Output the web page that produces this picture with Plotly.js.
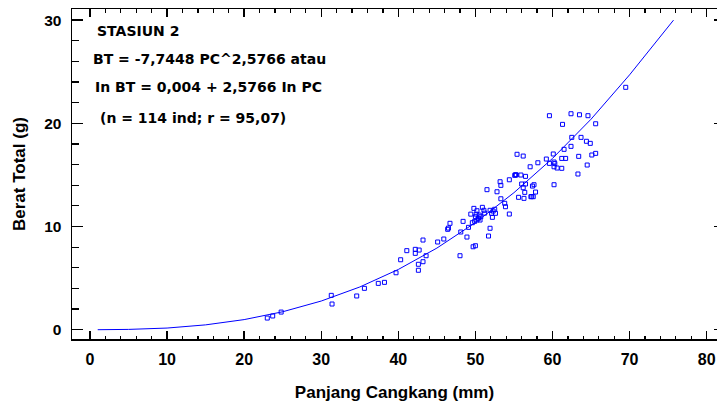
<!DOCTYPE html>
<html>
<head>
<meta charset="utf-8">
<script src="https://cdn.plot.ly/plotly-3.0.1.min.js"></script>
<style>html,body{margin:0;padding:0;background:#fff;}#chart{width:717px;height:407px;}</style>
</head>
<body>
<div id="chart"></div>
<script>
// Fitted curve
const curveX = [1, 5, 10, 15, 20, 25, 30, 35, 40, 45, 50, 55, 60, 65, 70, 75.7];
const curveY = [0.0, 0.03, 0.16, 0.47, 0.98, 1.74, 2.78, 4.14, 5.84, 7.91, 10.38, 13.28, 16.6, 20.4, 24.7, 30.0];

// Observed points: Panjang Cangkang (mm) and Berat Total (g)
const panjang = [
  23.0, 23.7, 24.8, 31.3, 31.4, 34.6, 35.6, 37.4, 38.2, 39.7,
  40.3, 41.1, 42.2, 42.2, 42.7, 42.6, 42.6, 43.2, 43.6, 43.2,
  45.1, 45.9, 46.4, 46.5, 46.7, 48.0, 48.1, 48.4, 48.9, 49.4,
  49.1, 49.6, 49.7, 50.0, 49.8, 50.0, 50.2, 50.2, 50.5, 50.6,
  50.7, 50.9, 51.1, 51.5, 51.7, 51.9, 51.9, 52.1, 52.2, 52.5,
  52.6, 52.8, 53.2, 53.3, 53.3, 53.8, 53.9, 54.4, 54.4, 55.1,
  55.2, 55.4, 55.6, 55.9, 56.2, 56.5, 56.4, 56.3, 56.0, 57.1,
  57.2, 57.5, 57.6, 59.6, 61.3, 62.4, 63.5, 64.6, 65.6, 62.5,
  63.7, 62.4, 64.4, 64.9, 61.5, 60.1, 59.2, 58.1, 59.6, 60.2,
  60.2, 60.6, 61.2, 61.2, 61.7, 63.4, 65.1, 65.6, 64.5, 63.3,
  60.2, 56.5, 56.2, 57.4, 57.8, 69.5, 50.4, 51.2, 50.1, 52.3,
  49.9, 55.3, 57.3, 60.3
];
const berat = [
  1.13, 1.33, 1.71, 3.33, 2.49, 3.27, 4.01, 4.49, 4.59, 5.52,
  6.78, 7.66, 7.79, 7.40, 7.72, 6.34, 5.76, 6.59, 7.17, 8.69,
  8.50, 8.79, 9.73, 9.85, 10.31, 7.17, 9.47, 10.50, 8.98, 11.20,
  9.92, 10.37, 8.04, 8.14, 11.76, 10.95, 11.53, 10.63, 11.11, 10.63,
  10.95, 11.86, 11.57, 13.57, 9.08, 9.83, 11.57, 11.28, 10.89, 11.67,
  11.28, 13.37, 14.34, 13.99, 12.69, 12.25, 11.92, 14.53, 11.21, 14.96,
  15.02, 17.00, 12.83, 14.99, 16.83, 14.86, 13.31, 12.73, 14.12, 15.79,
  12.89, 12.89, 14.05, 20.74, 19.90, 20.93, 20.83, 20.74, 19.96, 18.64,
  18.64, 17.77, 18.26, 18.06, 17.48, 17.03, 16.54, 16.18, 16.12, 16.25,
  15.79, 15.67, 15.64, 16.60, 16.60, 16.80, 16.93, 17.09, 15.96, 15.09,
  14.05, 14.12, 13.76, 13.92, 13.34, 23.49, 10.8, 11.3, 11.2, 11.5,
  10.5, 15.0, 12.9, 16.1
];

const xTickVals = [0, 10, 20, 30, 40, 50, 60, 70, 80];
const yTickVals = [0, 10, 20, 30];
const annotationLines = [
  "STASIUN 2",
  "BT = -7,7448 PC^2,5766 atau",
  "In BT = 0,004 + 2,5766 In PC",
  "(n = 114 ind; r = 95,07)"
];

const blue = "#0000ff";
const ARIAL = "Liberation Sans, Arial, sans-serif";
const WIDE = "DejaVu Sans, Liberation Sans, Arial, sans-serif";

const traces = [
  {
    x: curveX, y: curveY, type: "scatter", mode: "lines",
    line: {color: blue, width: 1}, hoverinfo: "skip", showlegend: false
  },
  {
    x: panjang, y: berat, type: "scatter", mode: "markers",
    marker: {symbol: "square-open", size: 4, color: blue, line: {color: blue, width: 1}},
    showlegend: false
  },
  {
    x: [null], y: [null], yaxis: "y2", type: "scatter", mode: "markers",
    showlegend: false, hoverinfo: "skip"
  }
];

const minorX = [];
for (let v = 2; v < 82; v += 2) { if (v % 10 !== 0) minorX.push(v); }

const annPos = [
  {x: 0.036, y: 0.934},
  {x: 0.030, y: 0.8485},
  {x: 0.033, y: 0.7645},
  {x: 0.041, y: 0.671}
];

const layout = {
  width: 717, height: 407,
  margin: {l: 72, r: 0, t: 9, b: 68},
  paper_bgcolor: "#fff", plot_bgcolor: "#fff",
  font: {family: ARIAL, color: "#000"},
  showlegend: false,
  xaxis: {
    range: [-2.335, 81.34],
    tickmode: "array", tickvals: xTickVals,
    ticks: "inside", ticklen: 8, tickwidth: 1.5, tickcolor: "#000",
    showline: true, linecolor: "#000", linewidth: 1.5, mirror: "ticks",
    showgrid: false, zeroline: false,
    tickfont: {family: ARIAL, size: 16, weight: "bold", color: "#000"},
    ticklabelstandoff: 5,
    minor: {tickmode: "array", tickvals: minorX, ticks: "inside", ticklen: 3.5, tickwidth: 1.2, tickcolor: "#000", showgrid: false},
    title: {text: "Panjang Cangkang (mm)", font: {family: ARIAL, size: 17, weight: "bold", color: "#000"}, standoff: 19}
  },
  yaxis: {
    range: [-0.90, 31.08],
    tickmode: "array", tickvals: yTickVals,
    ticks: "inside", ticklen: 11, tickwidth: 1.5, tickcolor: "#000",
    showline: true, linecolor: "#000", linewidth: 1.5,
    showgrid: false, zeroline: false,
    tickfont: {family: ARIAL, size: 15.5, weight: "bold", color: "#000"},
    ticklabelstandoff: 6,
    minor: {dtick: 2, tick0: 0, ticks: "inside", ticklen: 6.5, tickwidth: 1.2, tickcolor: "#000", showgrid: false},
    title: {text: "Berat Total (g)", font: {family: ARIAL, size: 17, weight: "bold", color: "#000"}, standoff: 14}
  },
  yaxis2: {
    overlaying: "y", side: "right", matches: "y",
    range: [-0.90, 31.08],
    tickmode: "array", tickvals: yTickVals,
    ticks: "inside", ticklen: 3, tickwidth: 1.5, tickcolor: "#000",
    showticklabels: false, showline: false, showgrid: false, zeroline: false
  },
  annotations: annotationLines.map((t, i) => ({
    text: t, xref: "paper", yref: "paper", x: annPos[i].x, y: annPos[i].y,
    xanchor: "left", yanchor: "middle", showarrow: false,
    font: {family: WIDE, size: 14, weight: "bold", color: "#000"}
  }))
};

Plotly.newPlot("chart", traces, layout, {displayModeBar: false, staticPlot: true});
</script>
</body>
</html>
